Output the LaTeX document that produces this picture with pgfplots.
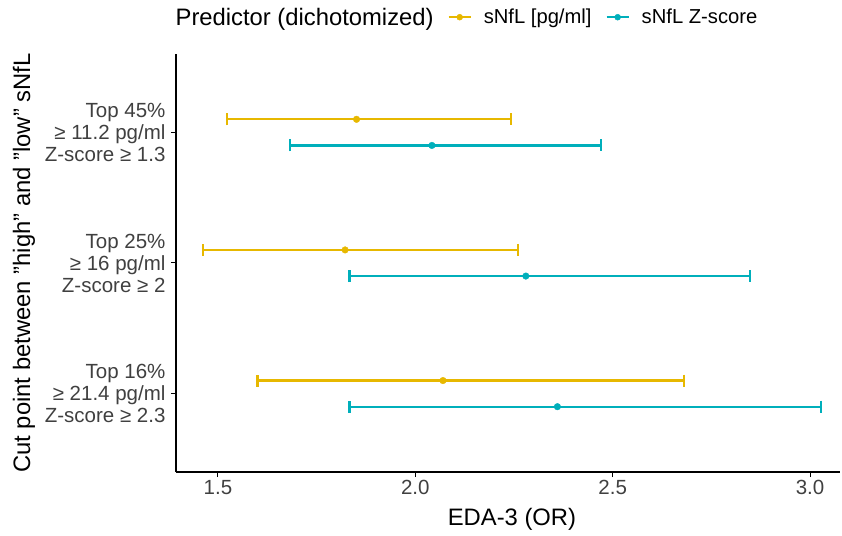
\documentclass[border=0pt]{standalone}
\usepackage{pgfplots}
\pgfplotsset{compat=1.18}
\usepackage{fontspec}
\setmainfont{Liberation Sans}
\definecolor{cgold}{HTML}{E7B800}
\definecolor{cteal}{HTML}{00AFBB}
\pgfplotstableread{
y x ep em
3.1 1.851 0.391 0.329
2.1 1.822 0.439 0.359
1.1 2.070 0.610 0.470
}\gold
\pgfplotstableread{
y x ep em
2.9 2.042 0.428 0.360
1.9 2.280 0.568 0.447
0.9 2.360 0.668 0.527
}\teal
\begin{document}
\begin{tikzpicture}
\useasboundingbox (0,0) rectangle (842bp,536bp);
\begin{axis}[
  at={(176bp,64bp)}, anchor=south west,
  scale only axis, width=664bp, height=418bp,
  xmin=1.3936, xmax=3.076, ymin=0.4, ymax=3.6,
  axis x line*=bottom, axis y line*=left,
  axis line style={line width=1.1bp, -, black},
  xtick={1.5,2,2.5,3}, xticklabels={1.5,2.0,2.5,3.0},
  ytick={1,2,3},
  yticklabels={{Top 16\%\\≥ 21.4 pg/ml\\Z-score ≥ 2.3},{Top 25\%\\≥ 16 pg/ml\\Z-score ≥ 2},{Top 45\%\\≥ 11.2 pg/ml\\Z-score ≥ 1.3}},
  yticklabel style={align=right, font=\fontsize{20.5bp}{22bp}\selectfont, text=black!75, xshift=-2bp},
  xticklabel style={font=\fontsize{20.5bp}{22bp}\selectfont, text=black!75},
  /pgf/number format/assume math mode=true,
  tick style={line width=1bp, black},
  tick align=outside, major tick length=5bp,
  xlabel={EDA-3 (OR)},
  ylabel={Cut point between "high" and "low" sNfL},
  every axis x label/.style={at={(axis description cs:0.506,-0.1124)}, anchor=center, font=\fontsize{23.8bp}{26bp}\selectfont},
  every axis y label/.style={at={(axis description cs:-0.229,0.5)}, rotate=90, anchor=center, font=\fontsize{23.8bp}{26bp}\selectfont},
  legend columns=3,
  legend style={at={(axis description cs:0.43,1.088)}, anchor=center, draw=none, fill=none,
    font=\fontsize{20.2bp}{22bp}\selectfont,
    /tikz/every even column/.append style={column sep=12bp},
    /tikz/every odd column/.append style={column sep=10bp}},
  legend cell align=left,
]
\addlegendimage{empty legend}
\addlegendentry{\fontsize{23.8bp}{26bp}\selectfont Predictor (dichotomized)}
\addplot[only marks, mark=*, mark size=3.3bp, color=cgold,
  legend image code/.code={\draw[line width=2.2bp] (0bp,0bp) -- (22bp,0bp); \fill (11bp,0bp) circle (3bp);},
  error bars/.cd, x dir=both, x explicit,
  error bar style={line width=2.2bp, cgold},
  error mark options={rotate=90, line width=2.2bp, mark size=6bp, cgold}]
  table[x=x, y=y, x error plus=ep, x error minus=em]{\gold};
\addlegendentry{sNfL [pg/ml]}
\addplot[only marks, mark=*, mark size=3.3bp, color=cteal,
  legend image code/.code={\draw[line width=2.2bp] (0bp,0bp) -- (22bp,0bp); \fill (11bp,0bp) circle (3bp);},
  error bars/.cd, x dir=both, x explicit,
  error bar style={line width=2.2bp, cteal},
  error mark options={rotate=90, line width=2.2bp, mark size=6bp, cteal}]
  table[x=x, y=y, x error plus=ep, x error minus=em]{\teal};
\addlegendentry{sNfL Z-score}
\end{axis}
\end{tikzpicture}
\end{document}
